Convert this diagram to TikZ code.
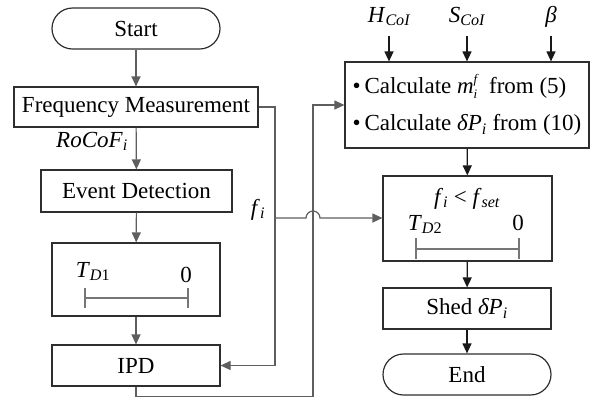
\documentclass[tikz,border=0pt]{standalone}
\usepackage{fontspec}
\setmainfont{Liberation Serif}
\usetikzlibrary{arrows.meta}
\newcommand\sbi[1]{\textsubscript{\itshape #1}}
\newcommand\ssz{\fontsize{13bp}{14.5bp}\selectfont\itshape}
\definecolor{lgray}{HTML}{5E5E5E}
\definecolor{bordr}{HTML}{2E2E2E}
\begin{document}
\begin{tikzpicture}[x=1bp,y=-1bp,
  font=\fontsize{23bp}{28bp}\selectfont,
  box/.style={draw=bordr, line width=1.2bp, inner sep=0pt, minimum width=#1},
  term/.style={box=#1, rounded corners=20.5bp, minimum height=41bp},
  lbl/.style={inner sep=0pt, anchor=base},
  gconn/.style={draw=lgray, line width=1.2bp, -{Triangle[length=10bp,width=9bp]}},
  bconn/.style={draw=black!90, line width=1.2bp, -{Triangle[length=10bp,width=9bp]}},
  bar/.style={draw=lgray!85, line width=1.1bp}]
\useasboundingbox (0,0) rectangle (598,401);
% left column
\node[term=168bp] (start) at (136,28.5) {Start};
\node[box=244bp, minimum height=40bp] (fm) at (136,107) {Frequency Measurement};
\node[box=191bp, minimum height=42bp] (ed) at (136.5,191) {Event Detection};
\node[box=168bp, minimum height=73bp] (td1) at (136,279.5) {};
\node[box=168bp, minimum height=41bp] (ipd) at (136,365.5) {IPD};
\node[lbl] (rocof) at (92,147) {\textit{RoCoF}\sbi{i}};
\node[lbl] (fi) at (258,215) {\textit{f}\sbi{i}};
\node[lbl] (tdone) at (93,277) {\textit{T}\textsubscript{\itshape D\upshape 1}};
\node[lbl] (zone) at (186,282) {0};
\draw[bar] (85,298) -- (188,298) (85,288) -- (85,308) (188,288) -- (188,308);
% right column
\node[box=244bp, minimum height=86bp, align=left] (calc) at (467,105)
  {•\,Calculate \textit{m}\raisebox{-4.5bp}{\shortstack[l]{\ssz f\\\ssz i}}\hspace{6bp} from (5)\\[9bp]
   •\,Calculate \textit{δP}\sbi{i} from (10)};
\node[box=169bp, minimum height=85bp] (td2) at (467.5,218.5) {};
\node[lbl] (cond) at (467,204) {\textit{f}\sbi{i} < \textit{f}\sbi{set}};
\node[lbl] (tdtwo) at (425,230) {\textit{T}\textsubscript{\itshape D\upshape 2}};
\node[lbl] (ztwo) at (518,230) {0};
\draw[bar] (416,249) -- (519,249) (416,238) -- (416,259) (519,238) -- (519,259);
\node[box=168bp, minimum height=41bp] (shed) at (467,308.5) {Shed \textit{δP}\sbi{i}};
\node[term=168bp] (end) at (467,374.5) {End};
% inputs
\node[lbl] (hcoi) at (389,22) {\textit{H}\sbi{CoI}};
\node[lbl] (scoi) at (467,22) {\textit{S}\sbi{CoI}};
\node[lbl] (beta) at (551,22) {\textit{β}};
\coordinate (h0) at (389,36); \coordinate (s0) at (467,36); \coordinate (be0) at (551,36);
\draw[bconn] (h0) -- (h0 |- calc.north);
\draw[bconn] (s0) -- (s0 |- calc.north);
\draw[bconn] (be0) -- (be0 |- calc.north);
% connectors left
\draw[gconn] (start) -- (fm);
\draw[gconn] (fm) -- (ed);
\draw[gconn] (ed) -- (td1);
\draw[gconn] (td1) -- (ipd);
\coordinate (fbus) at (275,218);
\draw[gconn] (fm.east) -| (fbus) |- (ipd.east);
\coordinate (b1) at (313,396.5);
\draw[gconn] (ipd.south) |- (b1) |- (calc.west);
\draw[gconn] (fbus) -- (306,218) arc (180:360:7) -- (td2.west |- fbus);
% connectors right
\draw[bconn] (calc) -- (td2);
\draw[bconn] (td2) -- (shed);
\draw[bconn] (shed) -- (end);
\end{tikzpicture}
\end{document}
